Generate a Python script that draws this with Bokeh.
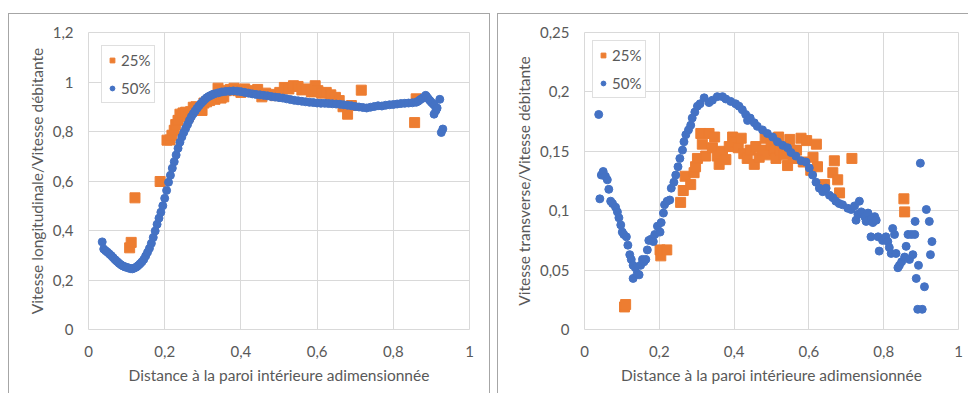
from bokeh.plotting import figure
from bokeh.models import Range1d, FixedTicker, CustomJSTickFormatter, Legend, LegendItem, Spacer
from bokeh.layouts import row, column
from bokeh.embed import file_html
from bokeh.resources import INLINE

# ---------------- data ----------------
x_ticks = [0, 0.2, 0.4, 0.6, 0.8, 1]
y_ticks_long = [0, 0.2, 0.4, 0.6, 0.8, 1, 1.2]
y_ticks_trans = [0, 0.05, 0.1, 0.15, 0.2, 0.25]

series_labels = ["25%", "50%"]
x_title = "Distance à la paroi intérieure adimensionnée"
y_title_long = "Vitesse longitudinale/Vitesse débitante"
y_title_trans = "Vitesse transverse/Vitesse débitante"

# Longitudinal velocity, 25 %
long25_x = [0.108, 0.112, 0.122, 0.188, 0.206, 0.214, 0.219, 0.225, 0.229, 0.235, 0.240, 0.248, 0.255, 0.262,
            0.268, 0.275, 0.282, 0.290, 0.298, 0.303, 0.310, 0.318, 0.325, 0.332, 0.340, 0.348, 0.355, 0.362,
            0.372, 0.382, 0.392, 0.400, 0.410, 0.420, 0.432, 0.444, 0.455, 0.465, 0.478, 0.490, 0.502, 0.514,
            0.526, 0.538, 0.550, 0.560, 0.572, 0.585, 0.595, 0.602, 0.612, 0.624, 0.636, 0.648, 0.658, 0.668,
            0.680, 0.690, 0.716, 0.856, 0.860]
long25_y = [0.330, 0.352, 0.532, 0.598, 0.765, 0.766, 0.785, 0.805, 0.828, 0.845, 0.870, 0.875, 0.878, 0.860,
            0.880, 0.898, 0.900, 0.890, 0.885, 0.915, 0.920, 0.925, 0.935, 0.930, 0.975, 0.935, 0.940, 0.965,
            0.970, 0.975, 0.965, 0.958, 0.972, 0.962, 0.965, 0.970, 0.940, 0.955, 0.950, 0.945, 0.958, 0.978,
            0.972, 0.985, 0.982, 0.968, 0.972, 0.960, 0.985, 0.965, 0.955, 0.958, 0.948, 0.938, 0.925, 0.900,
            0.870, 0.905, 0.967, 0.836, 0.932]

# Longitudinal velocity, 50 %
long50_x = [0.036, 0.040, 0.045, 0.050, 0.055, 0.060, 0.065, 0.070, 0.075, 0.080, 0.085, 0.090, 0.095, 0.100,
            0.105, 0.110, 0.115, 0.120, 0.125, 0.130, 0.135, 0.140, 0.145, 0.150, 0.155, 0.160, 0.165, 0.170,
            0.175, 0.180, 0.185, 0.190, 0.195, 0.200, 0.205, 0.210, 0.215, 0.220, 0.225, 0.230, 0.235, 0.240,
            0.245, 0.250, 0.255, 0.260, 0.265, 0.270, 0.275, 0.280, 0.285, 0.290, 0.295, 0.300, 0.305, 0.310,
            0.315, 0.320, 0.325, 0.330, 0.340, 0.350, 0.360, 0.370, 0.380, 0.390, 0.400, 0.410, 0.420, 0.430,
            0.440, 0.450, 0.460, 0.470, 0.480, 0.490, 0.500, 0.510, 0.520, 0.530, 0.540, 0.550, 0.560, 0.570,
            0.580, 0.590, 0.600, 0.610, 0.620, 0.630, 0.640, 0.650, 0.660, 0.670, 0.680, 0.690, 0.700, 0.710,
            0.720, 0.730, 0.740, 0.750, 0.760, 0.770, 0.780, 0.790, 0.800, 0.810, 0.820, 0.830, 0.840, 0.850,
            0.860, 0.865, 0.870, 0.875, 0.880, 0.885, 0.888, 0.892, 0.896, 0.900, 0.904, 0.908, 0.907, 0.912,
            0.915, 0.922, 0.926, 0.930]
long50_y = [0.354, 0.325, 0.318, 0.312, 0.305, 0.298, 0.290, 0.282, 0.275, 0.268, 0.262, 0.257, 0.254, 0.251,
            0.249, 0.246, 0.245, 0.248, 0.252, 0.258, 0.265, 0.273, 0.283, 0.297, 0.312, 0.328, 0.348, 0.372,
            0.398, 0.425, 0.450, 0.474, 0.500, 0.530, 0.562, 0.595, 0.623, 0.652, 0.678, 0.705, 0.732, 0.757,
            0.778, 0.796, 0.812, 0.828, 0.845, 0.860, 0.872, 0.883, 0.894, 0.904, 0.913, 0.921, 0.929, 0.936,
            0.941, 0.945, 0.949, 0.952, 0.956, 0.960, 0.962, 0.963, 0.964, 0.963, 0.961, 0.958, 0.955, 0.952,
            0.950, 0.948, 0.946, 0.944, 0.941, 0.939, 0.937, 0.935, 0.932, 0.929, 0.926, 0.924, 0.922, 0.920,
            0.918, 0.917, 0.915, 0.914, 0.914, 0.913, 0.912, 0.911, 0.910, 0.908, 0.906, 0.904, 0.901, 0.899,
            0.897, 0.895, 0.898, 0.901, 0.904, 0.903, 0.906, 0.908, 0.909, 0.911, 0.913, 0.914, 0.915, 0.916,
            0.918, 0.922, 0.928, 0.933, 0.938, 0.946, 0.940, 0.932, 0.925, 0.918, 0.912, 0.906, 0.870, 0.885,
            0.895, 0.930, 0.796, 0.810]

# Transverse velocity, 25 %
trans25_x = [0.107, 0.110, 0.202, 0.204, 0.220, 0.257, 0.264, 0.269, 0.284, 0.293, 0.297, 0.302, 0.311, 0.315,
             0.324, 0.333, 0.342, 0.348, 0.355, 0.360, 0.369, 0.378, 0.387, 0.396, 0.404, 0.411, 0.419, 0.426,
             0.435, 0.443, 0.454, 0.458, 0.467, 0.476, 0.483, 0.492, 0.499, 0.508, 0.512, 0.519, 0.524, 0.533,
             0.543, 0.549, 0.558, 0.567, 0.579, 0.585, 0.594, 0.605, 0.611, 0.620, 0.623, 0.642, 0.664, 0.668,
             0.677, 0.682, 0.715, 0.854, 0.856]
trans25_y = [0.019, 0.021, 0.067, 0.062, 0.067, 0.107, 0.117, 0.129, 0.122, 0.132, 0.137, 0.144, 0.165, 0.156,
             0.146, 0.165, 0.153, 0.162, 0.146, 0.139, 0.150, 0.143, 0.154, 0.162, 0.158, 0.153, 0.161, 0.148,
             0.144, 0.151, 0.139, 0.154, 0.145, 0.151, 0.161, 0.147, 0.155, 0.151, 0.144, 0.162, 0.151, 0.147,
             0.138, 0.160, 0.144, 0.151, 0.161, 0.141, 0.159, 0.134, 0.145, 0.156, 0.137, 0.122, 0.132, 0.142,
             0.126, 0.115, 0.144, 0.110, 0.099]

# Transverse velocity, 50 %
trans50_x = [0.038, 0.041, 0.045, 0.050, 0.056, 0.061, 0.065, 0.070, 0.075, 0.083, 0.088, 0.092, 0.097, 0.101,
             0.105, 0.112, 0.116, 0.121, 0.125, 0.130, 0.130, 0.136, 0.141, 0.146, 0.150, 0.155, 0.159, 0.164,
             0.168, 0.172, 0.178, 0.184, 0.188, 0.195, 0.202, 0.205, 0.211, 0.214, 0.221, 0.228, 0.232, 0.239,
             0.244, 0.250, 0.255, 0.262, 0.266, 0.271, 0.278, 0.284, 0.288, 0.295, 0.302, 0.309, 0.320, 0.333,
             0.342, 0.355, 0.369, 0.378, 0.391, 0.404, 0.413, 0.422, 0.431, 0.436, 0.443, 0.454, 0.462, 0.476,
             0.489, 0.503, 0.516, 0.530, 0.543, 0.552, 0.565, 0.579, 0.592, 0.601, 0.610, 0.619, 0.628, 0.637,
             0.646, 0.655, 0.664, 0.672, 0.681, 0.690, 0.704, 0.713, 0.722, 0.726, 0.731, 0.735, 0.740, 0.749,
             0.753, 0.758, 0.767, 0.771, 0.776, 0.780, 0.766, 0.785, 0.788, 0.797, 0.806, 0.811, 0.815, 0.820,
             0.824, 0.829, 0.833, 0.838, 0.842, 0.848, 0.856, 0.860, 0.865, 0.869, 0.874, 0.878, 0.883, 0.884,
             0.887, 0.891, 0.893, 0.898, 0.903, 0.909, 0.914, 0.922, 0.925, 0.929]
trans50_y = [0.181, 0.110, 0.130, 0.133, 0.129, 0.126, 0.118, 0.108, 0.106, 0.103, 0.099, 0.094, 0.088, 0.082,
             0.080, 0.078, 0.071, 0.063, 0.059, 0.054, 0.043, 0.052, 0.047, 0.046, 0.054, 0.059, 0.057, 0.059,
             0.067, 0.075, 0.076, 0.074, 0.080, 0.087, 0.082, 0.090, 0.098, 0.105, 0.108, 0.109, 0.119, 0.124,
             0.130, 0.137, 0.144, 0.151, 0.158, 0.164, 0.168, 0.172, 0.178, 0.183, 0.188, 0.190, 0.195, 0.191,
             0.193, 0.196, 0.196, 0.194, 0.192, 0.190, 0.188, 0.185, 0.181, 0.176, 0.178, 0.174, 0.171, 0.168,
             0.165, 0.162, 0.158, 0.155, 0.153, 0.149, 0.146, 0.142, 0.141, 0.136, 0.130, 0.124, 0.119, 0.116,
             0.119, 0.113, 0.111, 0.108, 0.106, 0.105, 0.102, 0.101, 0.104, 0.092, 0.097, 0.108, 0.099, 0.095,
             0.091, 0.098, 0.093, 0.090, 0.095, 0.092, 0.078, 0.078, 0.066, 0.075, 0.078, 0.074, 0.069, 0.064,
             0.085, 0.080, 0.064, 0.052, 0.054, 0.057, 0.061, 0.070, 0.080, 0.059, 0.080, 0.063, 0.080, 0.091,
             0.043, 0.017, 0.054, 0.140, 0.017, 0.036, 0.101, 0.091, 0.063, 0.074]

# ---------------- styling ----------------
ORANGE = "#ED7D31"
BLUE = "#4472C4"
GRID = "#d9d9d9"
TEXT = "#595959"
EDGE = "1px solid #a6a6a6"
FONT = "Lato"
FS = "15px"
FS_TITLE = "15.5px"

fmt = CustomJSTickFormatter(code="return String(Math.round(tick*100)/100).replace('.', ',');")


def make_fig(xs25, ys25, xs50, ys50, ymax, yticks, ytitle, width, mb_left, mb_right, mb_top,
             legend_margin, styles):
    p = figure(width=width, height=380, x_range=Range1d(0, 1), y_range=Range1d(0, ymax),
               output_backend="svg", toolbar_location=None,
               min_border_left=mb_left, min_border_right=mb_right, min_border_top=mb_top,
               min_border_bottom=65, styles=styles)
    p.outline_line_color = GRID
    p.xgrid.grid_line_color = GRID
    p.ygrid.grid_line_color = GRID
    p.xaxis.ticker = FixedTicker(ticks=x_ticks)
    p.yaxis.ticker = FixedTicker(ticks=yticks)
    for ax in (p.xaxis[0], p.yaxis[0]):
        ax.formatter = fmt
        ax.axis_line_color = None
        ax.major_tick_line_color = None
        ax.minor_tick_line_color = None
        ax.major_tick_out = 0
        ax.major_tick_in = 0
        ax.major_label_text_font = FONT
        ax.major_label_text_font_size = FS
        ax.major_label_text_color = TEXT
        ax.axis_label_text_font = FONT
        ax.axis_label_text_font_size = FS_TITLE
        ax.axis_label_text_color = TEXT
        ax.axis_label_text_font_style = "normal"
    p.xaxis.major_label_standoff = 16
    p.yaxis.major_label_standoff = 15
    p.xaxis.axis_label = x_title
    p.yaxis.axis_label = ytitle
    p.xaxis.axis_label_standoff = 6
    p.yaxis.axis_label_standoff = 4

    r1 = p.scatter(xs25, ys25, marker="square", size=10, color=ORANGE)
    r2 = p.scatter(xs50, ys50, marker="circle", size=8, color=BLUE)
    legend = Legend(items=[LegendItem(label=series_labels[0], renderers=[r1]),
                           LegendItem(label=series_labels[1], renderers=[r2])],
                    location="top_left")
    legend.margin = legend_margin
    legend.padding = 4
    legend.spacing = 8
    legend.label_height = 20
    legend.glyph_height = 20
    legend.glyph_width = 12
    legend.label_standoff = 3
    legend.label_text_font = FONT
    legend.label_text_font_size = FS
    legend.label_text_color = TEXT
    legend.border_line_color = "#bfbfbf"
    legend.background_fill_color = "white"
    legend.background_fill_alpha = 1
    p.add_layout(legend)
    return p


p1 = make_fig(long25_x, long25_y, long50_x, long50_y, 1.2, y_ticks_long, y_title_long,
              482, 79, 22, 18, 13,
              {"border-top": EDGE, "border-left": EDGE, "border-right": EDGE})
p2 = make_fig(trans25_x, trans25_y, trans50_x, trans50_y, 0.25, y_ticks_trans, y_title_trans,
              471, 86, 11, 17, 8,
              {"border-top": EDGE, "border-left": EDGE})

layout = column(Spacer(height=13), row(Spacer(width=8), p1, Spacer(width=7), p2))
open("out.html", "w").write(file_html(layout, INLINE))
